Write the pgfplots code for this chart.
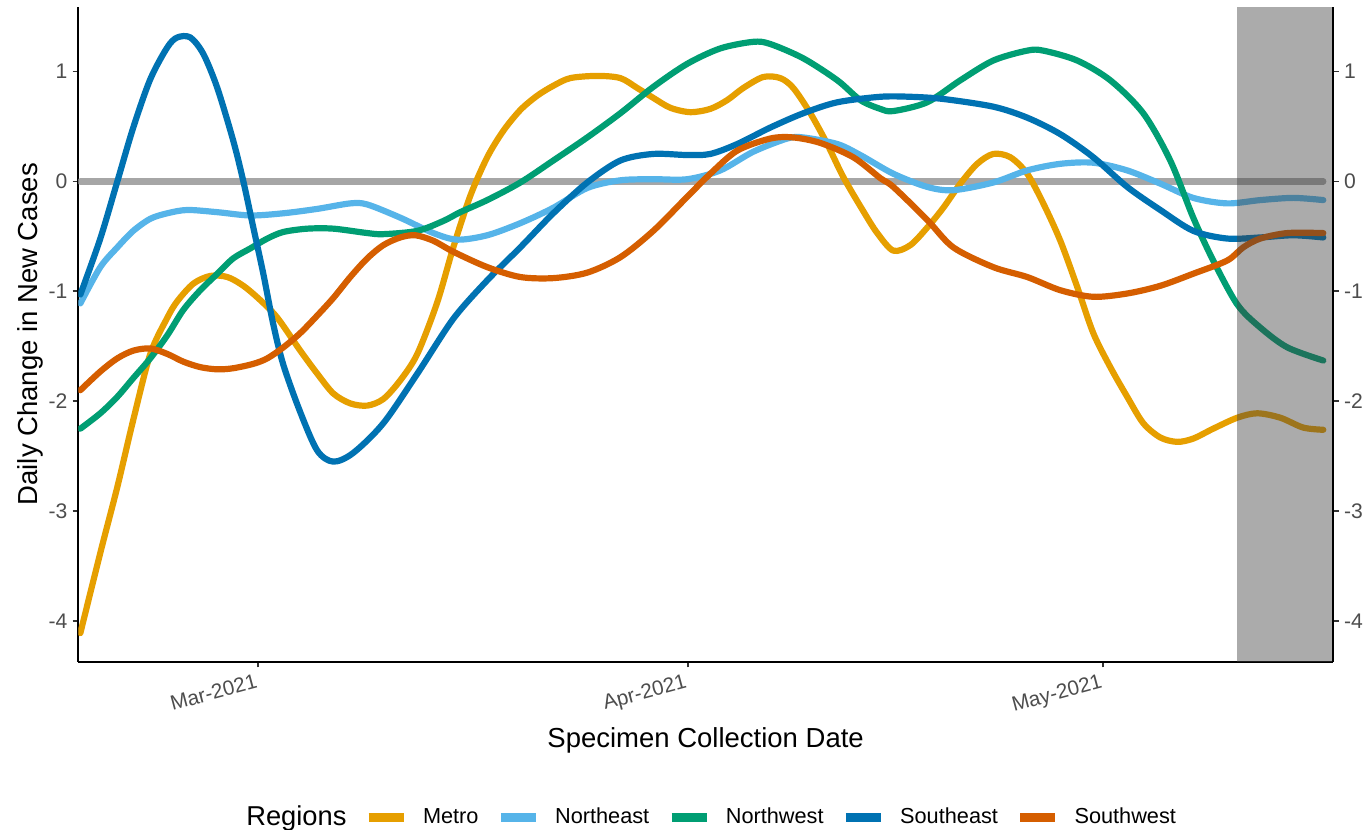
\documentclass[border=0pt]{standalone}
\usepackage{fontspec}
\setmainfont{Liberation Sans}
\usepackage{pgfplots}
\pgfplotsset{compat=1.18}
\definecolor{cMetro}{HTML}{E69F00}
\definecolor{cNE}{HTML}{56B4E9}
\definecolor{cNW}{HTML}{009E73}
\definecolor{cSE}{HTML}{0072B2}
\definecolor{cSW}{HTML}{D55E00}
\definecolor{ticktext}{HTML}{4D4D4D}
\definecolor{zeroline}{HTML}{A6A6A6}
\begin{document}
\begin{tikzpicture}
\pgfplotsset{
  common/.style={
    width=627.35bp, height=327.5bp, scale only axis,
    xmin=-13, xmax=77.6, ymin=-4.37, ymax=1.59,
    ytick={-4,-3,-2,-1,0,1},
    yticklabels={-4,-3,-2,-1,0,1},
    tick align=outside,
    major tick length=2.8bp,
    every tick/.style={black!80, line width=0.9bp},
    axis line style={black, line width=1.1bp},
    yticklabel style={font=\fontsize{10.6}{12}\selectfont, text=ticktext},
    xticklabel style={font=\fontsize{10.4}{12}\selectfont, text=ticktext},
  }
}
\begin{axis}[common,
  axis x line*=bottom, axis y line*=left,
  xtick={0,31,61},
  xticklabels={Mar-2021,Apr-2021,May-2021},
  xticklabel style={rotate=15, anchor=north east, inner sep=2.5bp},
  yticklabel style={anchor=east, inner sep=2.5bp},
  xlabel={Specimen Collection Date},
  ylabel={Daily Change in New Cases},
  xlabel style={at={(axis description cs:0.5,-0.12)}, anchor=center, font=\fontsize{13.8}{15}\selectfont},
  ylabel style={at={(axis description cs:-0.0385,0.5)}, anchor=center, font=\fontsize{13.8}{15}\selectfont},
  legend style={at={(axis description cs:0.5,-0.238)}, anchor=center, draw=none, fill=none,
    legend columns=-1, font=\fontsize{10.9}{12}\selectfont,
    /tikz/every even column/.append style={column sep=7bp},
    /tikz/every odd column/.append style={column sep=5.5bp}},
  legend cell align=left,
  legend image code/.code={\draw[#1, line width=4.3bp, line cap=butt] (0bp,0bp) -- (17.5bp,0bp);},
  every axis plot/.append style={line width=3.1bp, line join=round, line cap=round},
]
\addlegendimage{empty legend}
\addlegendentry{\fontsize{13.7}{15}\selectfont Regions}

\addplot[zeroline, smooth, forget plot] coordinates {(-12.85,0) (76.9,0)};

\addplot[cMetro, smooth] coordinates {
(-12.85,-4.11) (-11.41,-3.38) (-10.18,-2.78) (-9.03,-2.17) (-7.80,-1.57) (-6.57,-1.24) (-5.85,-1.09) (-4.69,-0.93) (-3.47,-0.86) (-2.24,-0.87) (-1.08,-0.95) (0.14,-1.08) (1.37,-1.24) (3.03,-1.54) (4.26,-1.75) (5.42,-1.93) (6.64,-2.02) (7.87,-2.04) (9.03,-1.98) (10.25,-1.81) (11.48,-1.57) (12.92,-1.10) (14.08,-0.60) (15.31,-0.13) (16.53,0.22) (17.69,0.46) (18.92,0.65) (20.14,0.78) (21.30,0.87) (22.53,0.94) (24.48,0.96) (26.14,0.94) (27.36,0.85) (28.52,0.76) (29.75,0.67) (31.19,0.63) (32.64,0.66) (33.86,0.74) (35.02,0.85) (36.46,0.95) (37.69,0.94) (38.63,0.85) (39.86,0.62) (41.08,0.34) (42.24,0.04) (43.68,-0.27) (44.69,-0.47) (45.85,-0.63) (47.08,-0.58) (48.30,-0.42) (49.46,-0.24) (50.69,-0.02) (51.91,0.16) (53.07,0.25) (54.30,0.22) (55.52,0.07) (56.68,-0.20) (57.91,-0.54) (59.13,-0.96) (60.29,-1.38) (61.52,-1.69) (62.74,-1.96) (63.90,-2.20) (65.13,-2.33) (66.35,-2.37) (67.51,-2.34) (68.95,-2.25) (70.69,-2.15) (72.13,-2.11) (73.79,-2.15) (75.45,-2.24) (76.90,-2.26)
};
\addlegendentry{Metro}

\addplot[cNE, smooth] coordinates {
(-12.85,-1.11) (-11.41,-0.78) (-10.18,-0.60) (-9.03,-0.45) (-7.80,-0.34) (-6.57,-0.29) (-5.13,-0.26) (-2.96,-0.28) (-0.58,-0.31) (1.81,-0.29) (4.26,-0.25) (6.64,-0.20) (7.87,-0.21) (10.25,-0.33) (12.64,-0.47) (14.37,-0.53) (16.53,-0.49) (18.92,-0.38) (21.30,-0.24) (23.75,-0.06) (26.14,0.01) (28.52,0.02) (30.97,0.02) (33.36,0.10) (35.74,0.27) (38.19,0.39) (39.35,0.40) (41.81,0.34) (43.47,0.24) (45.85,0.07) (48.30,-0.05) (50.18,-0.08) (53.07,-0.01) (55.52,0.10) (57.91,0.16) (60.29,0.17) (62.74,0.10) (65.13,-0.02) (67.51,-0.15) (69.96,-0.20) (72.35,-0.17) (74.73,-0.15) (76.90,-0.17)
};
\addlegendentry{Northeast}

\addplot[cNW, smooth] coordinates {
(-12.85,-2.25) (-11.41,-2.11) (-10.18,-1.96) (-9.03,-1.79) (-7.80,-1.61) (-6.57,-1.40) (-5.42,-1.17) (-4.19,-0.99) (-2.96,-0.84) (-1.81,-0.70) (-0.58,-0.61) (0.65,-0.52) (1.81,-0.46) (3.54,-0.43) (5.42,-0.43) (7.87,-0.47) (9.03,-0.48) (11.48,-0.45) (13.36,-0.36) (14.58,-0.28) (16.53,-0.17) (18.92,-0.01) (21.30,0.19) (23.75,0.40) (26.14,0.62) (28.52,0.86) (30.97,1.07) (33.36,1.21) (35.74,1.27) (36.97,1.25) (39.35,1.12) (41.81,0.92) (43.47,0.74) (44.91,0.66) (45.85,0.64) (48.30,0.72) (50.69,0.92) (53.07,1.10) (55.52,1.19) (56.68,1.19) (59.13,1.10) (61.52,0.92) (63.90,0.62) (65.85,0.19) (67.51,-0.33) (68.95,-0.72) (70.69,-1.12) (72.35,-1.33) (74.30,-1.51) (76.90,-1.63)
};
\addlegendentry{Northwest}

\addplot[cSE, smooth] coordinates {
(-12.85,-1.03) (-11.41,-0.52) (-10.18,0.00) (-9.03,0.49) (-7.80,0.93) (-6.57,1.22) (-5.85,1.31) (-4.91,1.31) (-3.97,1.16) (-2.96,0.85) (-1.81,0.37) (-1.08,0.00) (-0.36,-0.42) (0.36,-0.84) (1.08,-1.30) (1.81,-1.67) (3.03,-2.10) (4.26,-2.45) (5.42,-2.55) (6.86,-2.47) (9.03,-2.20) (11.48,-1.75) (14.08,-1.25) (16.53,-0.90) (18.92,-0.60) (21.30,-0.29) (23.75,-0.01) (26.14,0.19) (28.52,0.25) (30.97,0.24) (32.64,0.25) (34.58,0.34) (36.97,0.49) (39.35,0.62) (41.81,0.72) (44.91,0.77) (47.08,0.77) (49.46,0.75) (53.07,0.68) (55.52,0.58) (57.91,0.43) (60.29,0.22) (62.74,-0.05) (65.13,-0.26) (67.51,-0.45) (69.96,-0.52) (72.35,-0.51) (74.73,-0.49) (76.90,-0.51)
};
\addlegendentry{Southeast}

\addplot[cSW, smooth] coordinates {
(-12.85,-1.90) (-11.41,-1.73) (-10.18,-1.61) (-9.03,-1.54) (-7.80,-1.52) (-6.57,-1.57) (-5.42,-1.64) (-4.19,-1.69) (-2.96,-1.71) (-1.81,-1.70) (-0.36,-1.66) (0.65,-1.61) (1.81,-1.51) (3.03,-1.38) (4.26,-1.22) (5.42,-1.06) (6.64,-0.87) (7.87,-0.70) (9.03,-0.58) (10.25,-0.51) (11.34,-0.49) (12.64,-0.54) (14.08,-0.64) (16.53,-0.78) (18.92,-0.87) (21.30,-0.88) (23.75,-0.83) (26.14,-0.69) (28.52,-0.45) (30.97,-0.14) (32.64,0.07) (34.58,0.28) (36.97,0.39) (38.63,0.40) (40.58,0.35) (42.96,0.22) (44.91,0.03) (45.85,-0.05) (48.30,-0.35) (50.18,-0.60) (53.07,-0.78) (55.52,-0.87) (57.91,-0.99) (60.29,-1.05) (62.74,-1.02) (65.13,-0.95) (67.51,-0.84) (69.96,-0.72) (71.12,-0.60) (72.35,-0.52) (74.30,-0.47) (76.90,-0.47)
};
\addlegendentry{Southwest}

\addplot[draw=none, fill=black!75, fill opacity=0.44, line width=0pt, forget plot]
  coordinates {(70.65,-4.37) (77.6,-4.37) (77.6,1.59) (70.65,1.59)} -- cycle;

\coordinate (BL) at (rel axis cs:-0.0624,-0.2569);
\coordinate (TR) at (rel axis cs:1.0263,1.0102);
\end{axis}
\begin{axis}[common,
  axis x line=none, axis y line*=right,
  yticklabel style={anchor=west, inner sep=2.5bp},
]
\end{axis}
\pgfresetboundingbox
\path[use as bounding box] (BL) rectangle (TR);
\end{tikzpicture}
\end{document}
